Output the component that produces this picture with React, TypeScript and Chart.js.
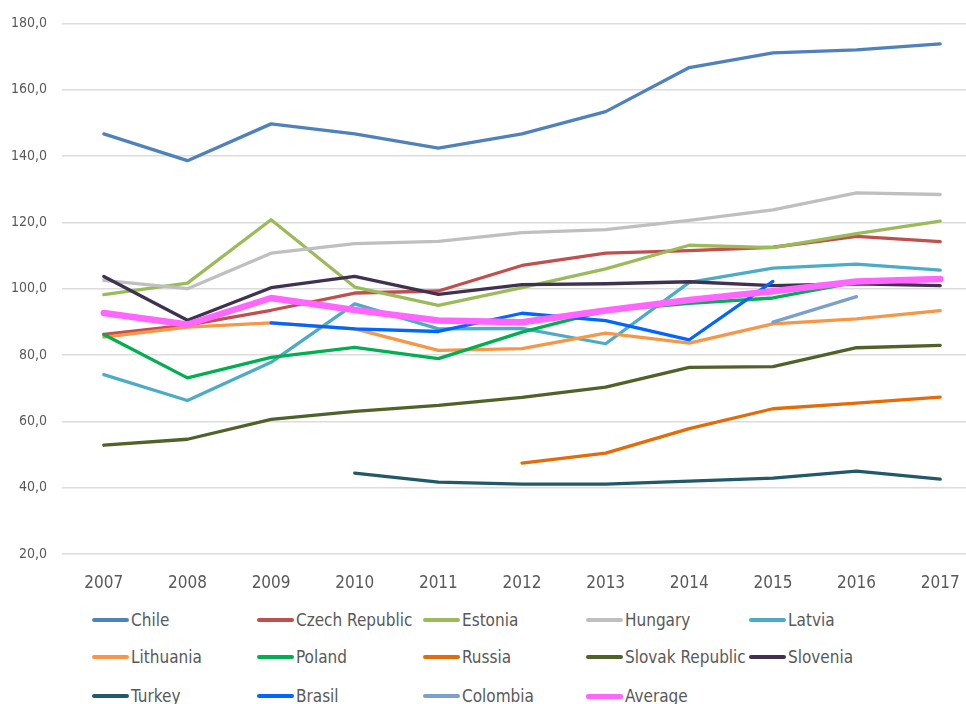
import React, { useEffect, useRef } from "react";
import { Chart, registerables } from "chart.js";

Chart.register(...registerables);

const years = ["2007", "2008", "2009", "2010", "2011", "2012", "2013", "2014", "2015", "2016", "2017"];

const chile = [146.7, 138.6, 149.7, 146.7, 142.4, 146.7, 153.4, 166.7, 171.1, 172.0, 173.8];
const czechRepublic = [86.2, 89.0, 93.5, 98.7, 99.3, 107.0, 110.7, 111.5, 112.5, 115.8, 114.2];
const estonia = [98.2, 101.7, 120.8, 100.5, 95.0, 100.3, 106.0, 113.1, 112.4, 116.6, 120.4];
const hungary = [102.5, 100.0, 110.7, 113.6, 114.3, 116.9, 117.8, 120.6, 123.8, 128.9, 128.4];
const latvia = [74.1, 66.3, 77.8, 95.4, 87.9, 88.0, 83.4, 101.9, 106.2, 107.4, 105.6];
const lithuania = [85.4, 88.4, 89.7, 87.9, 81.4, 81.9, 86.6, 83.6, 89.4, 90.9, 93.4];
const poland = [86.2, 73.1, 79.3, 82.3, 78.9, 86.9, 93.4, 95.6, 97.2, 102.0, 102.8];
const russia = [null, null, null, null, null, 47.4, 50.4, 57.8, 63.8, 65.5, 67.3];
const slovakRepublic = [52.8, 54.6, 60.6, 63.0, 64.8, 67.2, 70.3, 76.3, 76.5, 82.2, 82.9];
const slovenia = [103.7, 90.5, 100.3, 103.7, 98.3, 101.2, 101.5, 102.1, 100.9, 101.5, 100.9];
const turkey = [null, null, null, 44.4, 41.7, 41.1, 41.1, 42.0, 42.9, 45.0, 42.6];
const brasil = [null, null, 89.7, 87.9, 87.1, 92.6, 90.4, 84.6, 102.2, null, null];
const colombia = [null, null, null, null, null, null, null, null, 89.9, 97.6, null];
const average = [92.7, 89.2, 97.2, 93.6, 90.4, 89.9, 93.4, 96.6, 99.2, 102.2, 102.9];

const seriesNames = [
  "Chile", "Czech Republic", "Estonia", "Hungary", "Latvia",
  "Lithuania", "Poland", "Russia", "Slovak Republic", "Slovenia",
  "Turkey", "Brasil", "Colombia", "Average",
];
const seriesData = [
  chile, czechRepublic, estonia, hungary, latvia,
  lithuania, poland, russia, slovakRepublic, slovenia,
  turkey, brasil, colombia, average,
];
const seriesColors = [
  "#4F81BD", "#C0504D", "#9BBB59", "#BFBFBF", "#4BACC6",
  "#F79646", "#00B050", "#E36C09", "#4F6228", "#403151",
  "#215968", "#0066FF", "#7BA0CD", "#FF66FF",
];
const seriesWidths = [3.3, 3.3, 3.3, 3.3, 3.3, 3.3, 3.3, 3.3, 3.3, 3.3, 3.3, 3.3, 3.3, 6.5];

const yMin = 20;
const yMax = 180;
const yStep = 20;

const FONT = "'DejaVu Sans Condensed', 'DejaVu Sans', sans-serif";
const TEXT = "#595959";

const legendCols = [92, 257, 423, 586, 749];
const legendRows = [620, 657, 696];
const AVG_INDEX = seriesNames.length - 1;

export default function App() {
  const ref = useRef<HTMLCanvasElement | null>(null);

  useEffect(() => {
    if (!ref.current) return;
    const n = seriesNames.length;
    const chart = new Chart(ref.current, {
      type: "line",
      data: {
        labels: years,
        datasets: seriesNames.map((name, i) => ({
          label: name,
          data: seriesData[i],
          borderColor: seriesColors[i],
          backgroundColor: seriesColors[i],
          borderWidth: seriesWidths[i],
          pointRadius: 0,
          pointHoverRadius: 0,
          tension: 0,
          spanGaps: false,
          fill: false,
          borderJoinStyle: "round" as const,
          borderCapStyle: "round" as const,
          order: n - i,
        })),
      },
      options: {
        animation: false,
        responsive: false,
        events: [],
        layout: { padding: { top: 23, right: 8, bottom: 0, left: 0 } },
        plugins: {
          legend: { display: false },
          tooltip: { enabled: false },
          title: { display: false },
        },
        scales: {
          x: {
            type: "category",
            offset: true,
            grid: { display: false, drawTicks: false },
            border: { display: false },
            ticks: {
              color: TEXT,
              font: { family: FONT, size: 17 },
              padding: 19,
              maxRotation: 0,
              autoSkip: false,
            },
            afterFit: (scale: any) => {
              scale.height = 46;
            },
          },
          y: {
            min: yMin,
            max: yMax,
            grid: { color: "#DCDCDC", lineWidth: 1.6, drawTicks: false },
            border: { display: false },
            ticks: {
              stepSize: yStep,
              color: TEXT,
              font: { family: FONT, size: 14 },
              padding: 15,
              callback: (v: any) => Number(v).toFixed(1).replace(".", ","),
            },
            afterFit: (scale: any) => {
              scale.width = 62;
            },
          },
        },
      },
    });
    return () => chart.destroy();
  }, []);

  return (
    <div
      style={{
        position: "fixed",
        left: 0,
        top: 0,
        width: 966,
        height: 704,
        overflow: "hidden",
        background: "#ffffff",
      }}
    >
      <canvas ref={ref} width={990} height={600} style={{ position: "absolute", left: 0, top: 0 }} />
      {seriesNames.map((name, i) => (
        <div
          key={name}
          style={{
            position: "absolute",
            left: legendCols[i % 5],
            top: legendRows[Math.floor(i / 5)] - 10,
            height: 20,
            display: "flex",
            alignItems: "center",
            whiteSpace: "nowrap",
          }}
        >
          <div
            style={{
              width: 37,
              height: i === AVG_INDEX ? 5 : 4,
              borderRadius: 2,
              background: seriesColors[i],
            }}
          />
          <span
            style={{
              marginLeft: 2,
              fontFamily: FONT,
              fontSize: 17,
              lineHeight: "20px",
              color: TEXT,
            }}
          >
            {name}
          </span>
        </div>
      ))}
    </div>
  );
}
